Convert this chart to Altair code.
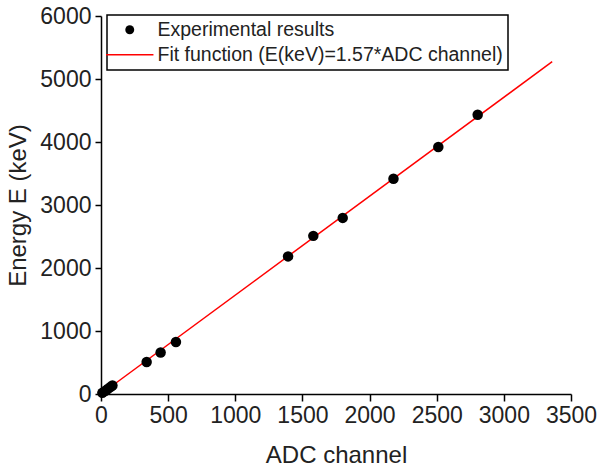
import altair as alt
import pandas as pd

# Experimental calibration points
adc_channel = [10, 30, 50, 70, 85, 340, 444, 558, 1393, 1581, 1800, 2178, 2512, 2805]
energy_kev = [18, 48, 80, 110, 135, 508, 660, 825, 2184, 2510, 2795, 3417, 3920, 4433]

# Fit line end points: E = 1.57 * ADC
fit_adc = [0, 3360]
fit_energy = [0, 5275]

series_names = ["Experimental results", "Fit function (E(keV)=1.57*ADC channel)"]

x_ticks = list(range(0, 3501, 250))
y_ticks = list(range(0, 6001, 500))

pts = pd.DataFrame({"adc": adc_channel, "energy": energy_kev, "series": series_names[0]})
fit = pd.DataFrame({"adc": fit_adc, "energy": fit_energy})

FONT = "Liberation Sans"

color_scale = alt.Scale(domain=series_names, range=["black", "red"])
shape_scale = alt.Scale(domain=series_names, range=["circle", "M-5.3,-0.17H5.3V0.17H-5.3Z"])

x_enc = alt.X(
    "adc:Q",
    scale=alt.Scale(domain=[0, 3500], nice=False, zero=False),
    axis=alt.Axis(
        title="ADC channel",
        values=x_ticks,
        labelExpr="datum.value % 500 === 0 ? datum.label : ''",
        format="d",
        grid=False,
        labelOverlap=False,
        labelFlush=False,
        tickSize={"condition": {"test": "datum.value % 500 === 0", "value": 7}, "value": 4},
        labelPadding=3,
        titlePadding=16,
    ),
)
y_enc = alt.Y(
    "energy:Q",
    scale=alt.Scale(domain=[0, 6000], nice=False, zero=False),
    axis=alt.Axis(
        title="Energy E (keV)",
        values=y_ticks,
        labelExpr="datum.value % 1000 === 0 ? datum.label : ''",
        format="d",
        grid=False,
        labelOverlap=False,
        labelFlush=False,
        tickSize={"condition": {"test": "datum.value % 1000 === 0", "value": 6}, "value": 3},
        labelPadding=4,
        titlePadding=9,
    ),
)

legend = alt.Legend(
    title=None,
    orient="none",
    legendX=6,
    legendY=-1,
    strokeColor="black",
    padding=5,
    labelFont=FONT,
    labelFontSize=19.5,
    labelColor="#222",
    symbolSize=80,
    symbolOffset=8,
    labelOffset=18,
    rowPadding=4,
    labelLimit=600,
    symbolOpacity=1,
)

line = alt.Chart(fit).mark_line(strokeWidth=1.5, color="red").encode(
    x=x_enc,
    y=y_enc,
)

points = alt.Chart(pts).mark_point(filled=True, size=110, opacity=1).encode(
    x="adc:Q",
    y="energy:Q",
    color=alt.Color("series:N", scale=color_scale, legend=legend),
    shape=alt.Shape("series:N", scale=shape_scale, legend=legend),
)

chart = (
    alt.layer(line, points)
    .properties(
        width=470,
        height=378,
        autosize=alt.AutoSizeParams(type="none"),
        padding={"left": 101, "top": 16, "right": 26, "bottom": 78},
        background="white",
    )
    .configure_view(stroke=None)
    .configure_legend(strokeWidth=1.5)
    .configure_axis(
        domainColor="black",
        domainWidth=1.5,
        tickColor="black",
        tickWidth=1.5,
        labelFont=FONT,
        labelFontSize=23,
        labelColor="#222",
        titleFont=FONT,
        titleFontSize=24,
        titleFontWeight="normal",
        titleColor="#222",
    )
)

chart.save("out.html", embed_options={"renderer": "svg", "actions": False})
